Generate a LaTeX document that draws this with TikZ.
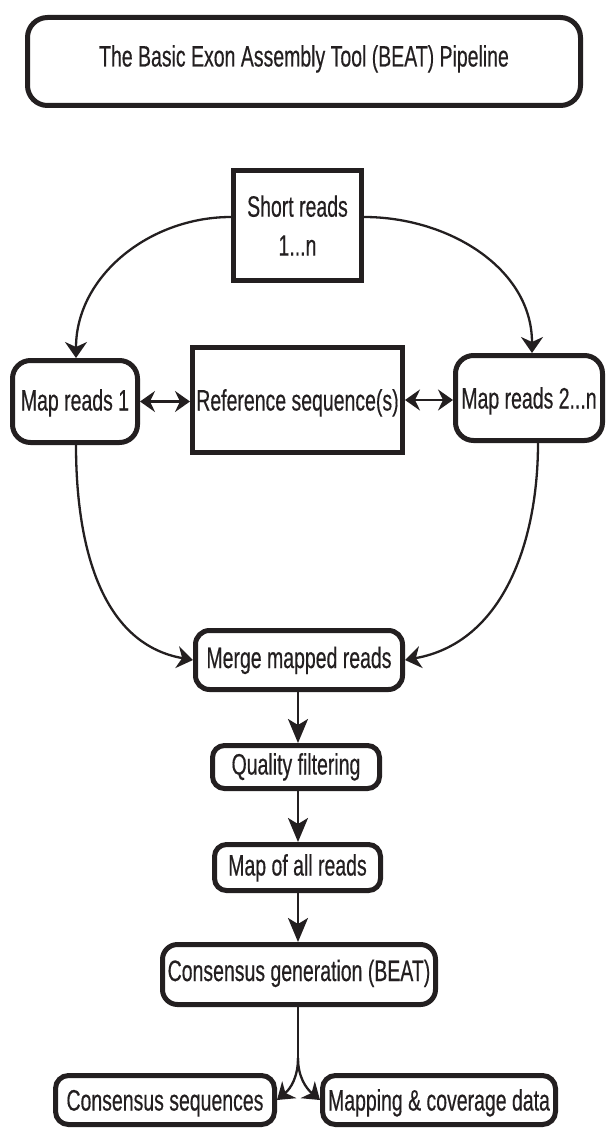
\documentclass[tikz,border=0pt]{standalone}
\usepackage{fontspec}
\setmainfont{Liberation Sans}[FakeStretch=0.66,FakeBold=0.4]
\usetikzlibrary{arrows.meta}
\definecolor{ink}{RGB}{35,31,32}
\tikzset{
  base/.style={draw=ink, line width=5pt, inner sep=0pt, text=ink,
    font=\fontsize{29.5}{39}\selectfont},
  box/.style={base, text height=21pt, text depth=0pt},
  rbox/.style={box, rounded corners=#1},
  conn/.style={draw=ink, line width=2.3pt},
  smalltip/.style={-{Stealth[length=16pt,width=22pt,inset=5pt]}},
  bigtip/.style={-{Stealth[length=24pt,width=20pt,inset=6pt]}},
  bothtip/.style={{Stealth[length=15pt,width=21pt,inset=5pt]}-{Stealth[length=15pt,width=21pt,inset=5pt]}}
}
\begin{document}
\begin{tikzpicture}[x=1pt,y=1pt]
\useasboundingbox (0,0) rectangle (607,-1129);
% boxes
\node[rbox=20pt, minimum width=553pt, minimum height=88pt, text depth=11pt] (title) at (304,-61.5) {The Basic Exon Assembly Tool (BEAT) Pipeline};
\node[base, align=center, minimum width=128pt, minimum height=110pt] (short) at (297.5,-225.5) {Short reads\\1...n};
\node[rbox=18pt, minimum width=125pt, minimum height=82pt, text depth=3pt] (map1) at (75,-401.5) {Map reads 1};
\node[box, minimum width=210pt, minimum height=105pt] (ref) at (297.5,-400) {Reference sequence(s)};
\node[rbox=18pt, minimum width=147pt, minimum height=85pt] (map2) at (529,-398) {Map reads 2...n};
\node[rbox=14pt, minimum width=207pt, minimum height=59pt, text depth=5pt] (merge) at (299,-660) {Merge mapped reads};
\node[rbox=12pt, minimum width=167pt, minimum height=43pt, text depth=6pt] (qual) at (296,-767) {Quality filtering};
\node[rbox=12pt, minimum width=166pt, minimum height=46pt, text depth=5pt] (mapall) at (297.5,-867.5) {Map of all reads};
\node[rbox=15pt, minimum width=273pt, minimum height=60pt, text depth=8pt] (cons) at (299,-974.5) {Consensus generation (BEAT)};
\node[rbox=13pt, minimum width=219pt, minimum height=49pt] (cseq) at (165,-1100) {Consensus sequences};
\node[rbox=13pt, minimum width=233pt, minimum height=49pt] (mcov) at (439,-1100) {Mapping \& coverage data};
% connectors
\draw[conn, smalltip] ([yshift=8.5pt]short.west) to[out=180,in=90] ([xshift=1pt]map1.north);
\draw[conn, smalltip] ([yshift=8.5pt]short.east) to[out=0,in=90] ([xshift=3pt]map2.north);
\draw[conn, bothtip] (map1.east) -- (map1.east -| ref.west);
\draw[conn, bothtip] (ref.east) -- (ref.east -| map2.west);
\draw[conn, smalltip] ([xshift=1pt]map1.south) to[out=-90,in=170] (merge.west);
\draw[conn, smalltip] ([xshift=9pt]map2.south) to[out=-90,in=10] (merge.east);
\draw[conn, bigtip] ([xshift=-1pt]merge.south) -- ([xshift=-1pt]merge.south |- qual.north);
\draw[conn, bigtip] ([xshift=2pt]qual.south) -- ([xshift=2pt]qual.south |- mapall.north);
\draw[conn, bigtip] ([xshift=0.5pt]mapall.south) -- ([xshift=0.5pt]mapall.south |- cons.north);
\coordinate (split) at (298,-1058);
\draw[conn] (split |- cons.south) -- (split);
\draw[conn, smalltip] (split) to[out=-90,in=40] (cseq.east);
\draw[conn, smalltip] (split) to[out=-90,in=140] (mcov.west);
\end{tikzpicture}
\end{document}
